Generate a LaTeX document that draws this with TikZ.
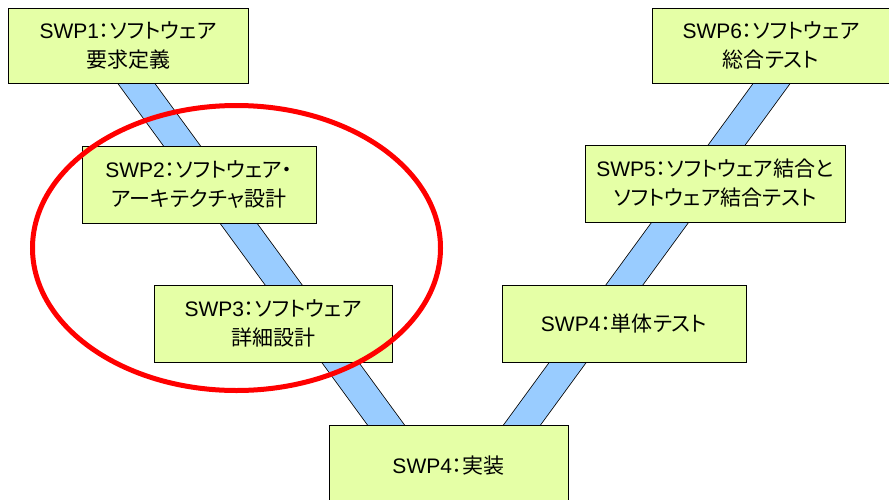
\documentclass[tikz,border=0pt]{standalone}
\usepackage{fontspec}
\setmainfont{Noto Sans CJK JP}[RawFeature={+palt}]
\newfontfamily\lat{Liberation Sans}
\definecolor{boxfill}{RGB}{229,255,166}
\definecolor{bandblue}{RGB}{153,204,255}
\definecolor{ringred}{RGB}{255,0,0}
\begin{document}
\begin{tikzpicture}[x=1pt,y=-1pt,
  stagebox/.style={draw=black, line width=1pt, fill=boxfill, rectangle, inner sep=0pt,
    align=center, font=\fontsize{21}{29}\selectfont},
  band/.style={draw=black, line width=0.8pt, double=bandblue, double distance=29pt},
  ringline/.style={draw=ringred, line width=5pt}]
\clip (0,0) rectangle (889,499);
\fill[white] (0,0) rectangle (889,499);
% band end points
\coordinate (lt) at (119.2,60);
\coordinate (lb) at (411.6,460);
\coordinate (rb) at (496.4,460);
\coordinate (rt) at (788.8,60);
\draw[band] (lt) -- (lb);
\draw[band] (rb) -- (rt);
% boxes
\node[stagebox, minimum width=240, minimum height=75] (s1) at (128,45.5)
  {{\lat SWP1}：ソフトウェア\\要求定義};
\node[stagebox, minimum width=234, minimum height=77] (s2) at (199,184.5)
  {{\lat SWP2}：ソフトウェア・\\アーキテクチャ設計};
\node[stagebox, minimum width=238, minimum height=77] (s3) at (273,323.5)
  {{\lat SWP3}：ソフトウェア\\詳細設計};
\node[stagebox, minimum width=239, minimum height=82] (s4) at (448.5,466)
  {{\lat SWP4}：実装};
\node[stagebox, minimum width=244, minimum height=77] (s4t) at (624,323.5)
  {{\lat SWP4}：単体テスト};
\node[stagebox, minimum width=260, minimum height=77] (s5) at (715,183.5)
  {{\lat SWP5}：ソフトウェア結合と\\ソフトウェア結合テスト};
\node[stagebox, minimum width=238, minimum height=75] (s6) at (771,45.5)
  {{\lat SWP6}：ソフトウェア\\総合テスト};
% highlight ring
\coordinate (ringc) at (236.5,248);
\draw[ringline] (ringc) ellipse [x radius=204, y radius=142.5];
\end{tikzpicture}
\end{document}
